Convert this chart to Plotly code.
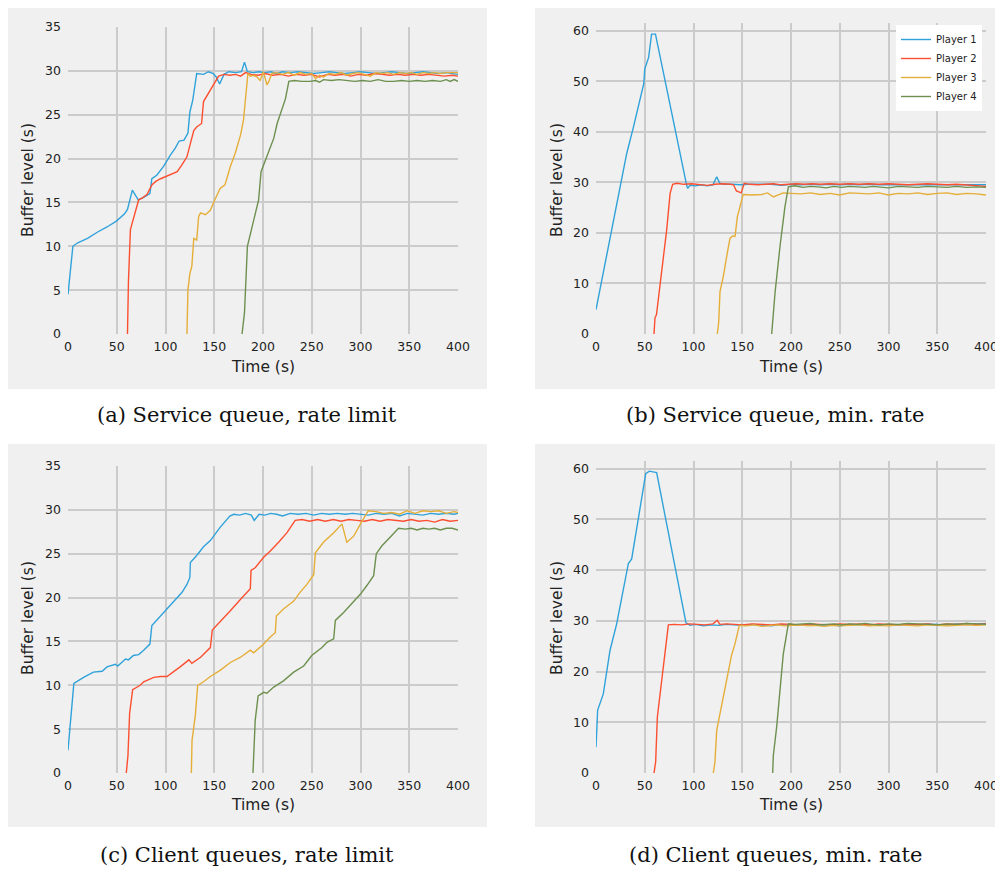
import plotly.graph_objects as go

W, H = 1003, 873
COLORS = ["#30a2da", "#fc4f30", "#e5ae38", "#6d904f"]
NAMES = ["Player 1", "Player 2", "Player 3", "Player 4"]
X_TICKS = [0, 50, 100, 150, 200, 250, 300, 350, 400]
CAPTIONS = ["(a) Service queue, rate limit", "(b) Service queue, min. rate",
            "(c) Client queues, rate limit", "(d) Client queues, min. rate"]
X_TITLE = "Time (s)"
Y_TITLE = "Buffer level (s)"

# ---------------- (a) Service queue, rate limit ----------------
a_p1_t = [0, 5, 10, 20, 30, 40, 50, 58, 61, 66, 72, 78, 84, 86, 91, 98, 105, 110, 114, 119, 123, 125, 128, 132, 139, 144, 149, 152, 155.5, 160, 165, 172, 178, 181, 184, 190, 196, 202, 208, 214, 220, 228, 236, 244, 252, 260, 268, 276, 284, 292, 300, 308, 316, 324, 332, 340, 348, 356, 364, 372, 380, 388, 396, 400]
a_p1_y = [4.5, 10.0, 10.4, 10.9, 11.6, 12.2, 12.9, 13.7, 14.2, 16.4, 15.3, 15.6, 16.0, 17.7, 18.1, 19.1, 20.4, 21.2, 22.0, 22.1, 22.9, 25.3, 26.7, 29.7, 29.6, 29.9, 29.7, 29.3, 28.5, 29.6, 29.9, 29.8, 29.9, 31.0, 29.9, 29.8, 29.9, 29.8, 29.9, 29.7, 29.9, 29.8, 29.9, 29.8, 29.7, 29.8, 29.9, 29.8, 29.7, 29.8, 29.9, 29.8, 29.7, 29.8, 29.9, 29.8, 29.7, 29.8, 29.9, 29.8, 29.7, 29.8, 29.7, 29.6]
a_p2_t = [61, 62, 64, 67, 72.5, 76, 81, 86, 90, 95, 101.5, 107, 112, 117, 122, 125.5, 129, 132, 137, 139, 144, 148, 151, 154.5, 160, 166, 172, 177, 182, 188, 195, 202, 210, 218, 226, 234, 242, 250, 258, 266, 274, 282, 290, 298, 306, 314, 322, 330, 338, 346, 354, 362, 370, 378, 386, 394, 400]
a_p2_y = [0, 6, 11.9, 13.0, 15.3, 15.5, 15.9, 17.0, 17.4, 17.7, 18.0, 18.2, 18.5, 19.3, 20.2, 21.7, 23.2, 23.6, 24.0, 26.5, 27.4, 28.2, 28.8, 29.4, 29.6, 29.5, 29.6, 29.4, 29.8, 29.6, 29.5, 29.7, 29.5, 29.6, 29.4, 29.6, 29.5, 29.6, 29.3, 29.6, 29.5, 29.6, 29.4, 29.6, 29.5, 29.7, 29.6, 29.5, 29.6, 29.5, 29.6, 29.5, 29.6, 29.5, 29.4, 29.5, 29.4]
a_p3_t = [122, 123, 125, 127, 129, 132, 134, 136, 141, 146, 149, 156, 161, 166.5, 171.5, 177, 180, 182, 184.5, 187, 190, 194, 197, 200.5, 204, 206, 209, 214, 220, 226, 232, 238, 244, 250, 254, 258, 262, 268, 274, 280, 286, 292, 298, 304, 310, 316, 322, 328, 334, 340, 346, 352, 358, 364, 370, 376, 382, 388, 394, 400]
a_p3_y = [0, 5.0, 6.9, 7.7, 10.9, 10.7, 13.4, 13.8, 13.6, 14.1, 14.9, 16.6, 17.0, 19.1, 20.6, 22.7, 24.4, 26.7, 29.7, 29.4, 29.5, 29.3, 28.9, 29.9, 28.4, 28.8, 29.7, 29.8, 29.6, 29.8, 29.5, 29.8, 29.6, 29.7, 29.1, 29.5, 29.3, 29.7, 29.6, 29.8, 29.5, 29.7, 29.8, 29.6, 29.4, 29.8, 29.7, 29.8, 29.6, 29.8, 29.7, 29.8, 29.6, 29.8, 29.7, 29.8, 29.7, 29.8, 29.8, 29.8]
a_p4_t = [178.5, 181, 184, 189, 192, 195.5, 198, 202.5, 206, 211, 214.5, 219.5, 223, 226.5, 232, 240, 248, 254, 258, 262, 270, 278, 286, 294, 302, 310, 318, 326, 334, 342, 350, 358, 366, 374, 382, 388, 392, 396, 400]
a_p4_y = [0, 2.4, 10.0, 12.2, 13.8, 15.3, 18.5, 19.8, 21.0, 22.3, 24.0, 25.5, 26.8, 28.8, 28.9, 28.8, 28.8, 28.9, 28.7, 29.0, 28.9, 29.0, 28.9, 28.8, 28.9, 28.8, 29.0, 28.8, 28.8, 28.9, 28.8, 28.9, 28.8, 28.9, 28.8, 29.0, 28.8, 29.0, 28.8]

# ---------------- (b) Service queue, min. rate ----------------
b_p1_t = [0, 4, 18, 31.5, 38, 45, 49, 50, 54, 57, 61, 93, 94, 96.5, 102, 108, 114, 120, 123.8, 127, 132, 140, 148, 156, 164, 172, 180, 190, 200, 210, 220, 230, 240, 250, 260, 270, 280, 290, 300, 310, 320, 330, 340, 350, 360, 370, 380, 390, 400]
b_p1_y = [4.8, 8.7, 21.9, 35.7, 40.6, 46.5, 49.5, 52.4, 54.7, 59.3, 59.3, 29.4, 28.8, 29.4, 29.3, 29.5, 29.3, 29.5, 31.1, 29.8, 29.6, 29.6, 29.5, 29.6, 29.6, 29.5, 29.6, 29.4, 29.6, 29.5, 29.6, 29.5, 29.6, 29.5, 29.6, 29.5, 29.6, 29.5, 29.5, 29.6, 29.5, 29.6, 29.5, 29.5, 29.6, 29.5, 29.6, 29.5, 29.5]
b_p2_t = [59.5, 60.5, 62, 65.5, 69, 72.5, 76, 78.6, 83, 90, 98, 106, 114, 122, 130, 138, 141, 144, 149, 152, 158, 166, 174, 182, 190, 198, 206, 214, 222, 230, 240, 250, 260, 270, 280, 290, 300, 310, 320, 330, 340, 350, 360, 370, 380, 390, 400]
b_p2_y = [0, 3.2, 3.8, 9.1, 14.7, 20.6, 27.8, 29.6, 29.8, 29.6, 29.7, 29.5, 29.4, 29.6, 29.7, 29.6, 29.5, 28.3, 27.9, 29.8, 29.6, 29.5, 29.6, 29.7, 29.5, 29.6, 29.7, 29.6, 29.7, 29.6, 29.7, 29.6, 29.7, 29.6, 29.7, 29.6, 29.7, 29.6, 29.5, 29.6, 29.7, 29.6, 29.5, 29.6, 29.5, 29.4, 29.2]
b_p3_t = [124.4, 125.8, 127.2, 130.6, 134, 137.4, 140, 142.6, 145, 147.7, 151, 160, 170, 176, 182, 187, 192, 200, 210, 220, 230, 240, 250, 260, 270, 280, 290, 300, 310, 320, 330, 340, 350, 360, 370, 380, 390, 400]
b_p3_y = [0, 2.2, 8.4, 11.4, 15.3, 18.9, 19.4, 19.3, 23.2, 25.2, 27.6, 27.5, 27.6, 27.9, 27.1, 27.5, 27.9, 27.8, 27.7, 27.9, 27.6, 27.8, 27.5, 27.9, 27.8, 27.7, 27.9, 27.5, 27.8, 27.7, 27.9, 27.6, 27.8, 27.9, 27.6, 27.8, 27.7, 27.5]
b_p4_t = [180.2, 183.6, 188.7, 193.8, 197.3, 204, 212, 220, 228, 236, 244, 252, 260, 268, 276, 284, 292, 300, 310, 320, 330, 340, 350, 360, 370, 380, 390, 400]
b_p4_y = [0, 8.1, 17.3, 25.2, 29.1, 29.3, 29.0, 29.2, 29.1, 28.9, 29.2, 29.0, 29.2, 29.1, 29.0, 29.2, 29.1, 28.9, 29.2, 29.1, 29.0, 29.2, 29.1, 29.0, 29.2, 29.0, 29.1, 29.0]

# ---------------- (c) Client queues, rate limit ----------------
c_p1_t = [0, 6, 16, 26, 35, 40, 48.5, 51, 59, 62, 67, 72.5, 77.6, 84, 86, 95, 101.5, 108, 117, 122, 125, 125.5, 132, 139, 146, 156, 166, 170, 176, 182, 188, 191, 196, 202, 208, 214, 220, 228, 236, 244, 252, 260, 268, 276, 284, 292, 300, 308, 316, 324, 332, 340, 348, 356, 364, 372, 380, 388, 396, 400]
c_p1_y = [2.6, 10.2, 10.9, 11.5, 11.6, 12.1, 12.4, 12.2, 13.0, 12.9, 13.4, 13.5, 14.0, 14.7, 16.8, 17.9, 18.7, 19.6, 20.6, 21.5, 22.3, 24.0, 24.8, 25.8, 26.5, 28.0, 29.3, 29.5, 29.4, 29.6, 29.4, 28.8, 29.5, 29.4, 29.6, 29.5, 29.3, 29.6, 29.5, 29.6, 29.4, 29.6, 29.5, 29.6, 29.5, 29.6, 29.5, 29.4, 29.6, 29.5, 29.6, 29.3, 29.6, 29.5, 29.4, 29.6, 29.5, 29.6, 29.5, 29.6]
c_p2_t = [59.8, 61.5, 63.2, 66.3, 74, 77.6, 88, 95, 101.5, 108, 115, 124, 127, 136, 141, 146, 148, 156, 166.5, 177, 187, 187.7, 192, 200.7, 207.5, 216, 224.6, 233, 240, 248, 256, 264, 272, 280, 288, 296, 304, 312, 320, 328, 336, 344, 352, 360, 368, 376, 384, 392, 400]
c_p2_y = [0, 2.0, 6.8, 9.5, 10.0, 10.4, 10.9, 11.0, 11.0, 11.5, 12.1, 12.9, 12.5, 13.2, 13.8, 14.3, 16.3, 17.2, 18.5, 19.8, 21.0, 23.1, 23.4, 24.6, 25.3, 26.3, 27.4, 28.8, 28.9, 28.7, 28.9, 28.7, 28.9, 28.7, 28.9, 28.8, 28.7, 28.9, 28.7, 28.9, 28.8, 28.7, 28.9, 28.7, 28.8, 28.6, 28.9, 28.7, 28.8]
c_p3_t = [126.5, 127.2, 130.6, 133, 139, 146, 156, 166.5, 177, 187, 190.4, 200.7, 207.5, 212.6, 213.7, 221, 231.5, 238, 245, 252, 253.7, 262, 272.5, 281, 286, 293, 300, 308, 316, 324, 332, 340, 348, 356, 364, 372, 380, 388, 396, 400]
c_p3_y = [0, 3.7, 6.6, 10.0, 10.4, 11.0, 11.7, 12.6, 13.2, 14.0, 13.7, 14.7, 15.5, 16.0, 17.9, 18.7, 19.6, 20.6, 21.5, 22.6, 25.1, 26.3, 27.4, 28.4, 26.3, 27.0, 28.4, 29.9, 29.8, 29.6, 29.7, 29.5, 29.9, 29.6, 29.9, 29.8, 29.9, 29.6, 29.8, 29.7]
c_p4_t = [189.7, 192, 195, 200.7, 204, 211, 221, 231.5, 241.7, 250, 260.5, 265.6, 272.5, 274.2, 282.7, 293, 300, 306.7, 313.5, 316.2, 322, 330.6, 339, 346, 352, 358, 364, 370, 376, 382, 388, 394, 400]
c_p4_y = [0, 6.0, 8.8, 9.2, 9.1, 9.8, 10.5, 11.5, 12.2, 13.4, 14.3, 14.9, 15.3, 17.4, 18.3, 19.6, 20.4, 21.4, 22.5, 25.0, 25.9, 26.9, 27.9, 27.8, 27.9, 27.7, 27.9, 27.8, 27.9, 27.7, 27.9, 27.9, 27.7]

# ---------------- (d) Client queues, min. rate ----------------
d_p1_t = [0, 1.7, 7.5, 14.4, 21.2, 33.2, 36.6, 45, 46.8, 51, 54.7, 62.2, 92.3, 96.4, 102, 110, 118, 126, 134, 142, 150, 160, 170, 180, 190, 200, 210, 220, 230, 240, 250, 260, 270, 280, 290, 300, 310, 320, 330, 340, 350, 360, 370, 380, 390, 400]
d_p1_y = [5.1, 12.4, 15.6, 24.2, 29.4, 41.3, 42.2, 52.1, 54.7, 59.0, 59.5, 59.2, 29.6, 29.1, 29.3, 29.0, 29.2, 29.1, 29.3, 29.2, 29.1, 29.3, 29.2, 29.0, 29.3, 29.1, 29.2, 29.3, 29.1, 29.2, 29.0, 29.3, 29.2, 29.1, 29.3, 29.2, 29.1, 29.3, 29.2, 29.4, 29.3, 29.2, 29.4, 29.3, 29.4, 29.5]
d_p2_t = [59.5, 61.2, 62.9, 65.6, 70.8, 74.2, 80, 88, 96, 104, 112, 120, 124.4, 127, 134, 142, 150, 160, 170, 180, 190, 200, 210, 220, 230, 240, 250, 260, 270, 280, 290, 300, 310, 320, 330, 340, 350, 360, 370, 380, 390, 400]
d_p2_y = [0, 2.2, 11.0, 15.6, 24.2, 29.2, 29.3, 29.2, 29.4, 29.3, 29.2, 29.4, 30.1, 29.3, 29.4, 29.3, 29.2, 29.4, 29.3, 29.2, 29.4, 29.3, 29.2, 29.4, 29.3, 29.2, 29.4, 29.3, 29.4, 29.2, 29.4, 29.3, 29.2, 29.4, 29.3, 29.4, 29.2, 29.4, 29.3, 29.5, 29.3, 29.4]
d_p3_t = [120.3, 122, 123.8, 127.2, 130.6, 134, 139, 142.6, 147, 154, 162, 170, 178, 186, 194, 202, 210, 218, 226, 234, 242, 250, 260, 270, 280, 290, 300, 310, 320, 330, 340, 350, 360, 370, 380, 390, 400]
d_p3_y = [0, 2.2, 8.4, 11.7, 15.0, 18.6, 23.2, 25.5, 29.1, 29.0, 29.2, 28.9, 29.1, 29.2, 29.0, 29.1, 29.2, 29.0, 29.1, 28.9, 29.1, 29.0, 29.1, 29.2, 29.0, 29.1, 29.0, 29.2, 29.1, 29.0, 29.2, 29.1, 29.0, 29.1, 29.2, 29.1, 29.2]
d_p4_t = [181.2, 181.9, 185.3, 188.7, 192.1, 197.3, 204, 212, 220, 228, 236, 244, 252, 260, 268, 276, 284, 292, 300, 310, 320, 330, 340, 350, 360, 370, 380, 390, 400]
d_p4_y = [0, 3.5, 9.1, 15.6, 23.5, 29.4, 29.3, 29.4, 29.5, 29.2, 29.3, 29.4, 29.2, 29.4, 29.3, 29.5, 29.3, 29.2, 29.4, 29.3, 29.5, 29.4, 29.3, 29.2, 29.4, 29.3, 29.5, 29.4, 29.3]

panels = [
    [(a_p1_t, a_p1_y), (a_p2_t, a_p2_y), (a_p3_t, a_p3_y), (a_p4_t, a_p4_y)],
    [(b_p1_t, b_p1_y), (b_p2_t, b_p2_y), (b_p3_t, b_p3_y), (b_p4_t, b_p4_y)],
    [(c_p1_t, c_p1_y), (c_p2_t, c_p2_y), (c_p3_t, c_p3_y), (c_p4_t, c_p4_y)],
    [(d_p1_t, d_p1_y), (d_p2_t, d_p2_y), (d_p3_t, d_p3_y), (d_p4_t, d_p4_y)],
]
y_ranges = [[0, 35], [0, 61.5], [0, 35], [0, 61.5]]
y_dticks = [5, 10, 5, 10]

# the page places the plot 8 px in from the top-left corner; compensate
OFF = 8

def px(x):
    return (x - OFF) / W

def py(y):
    return 1 - (y - OFF) / H

# plot areas in target pixels: (left, right, top, bottom)
areas = [(68, 458, 27, 334), (596, 986, 23, 334), (68, 458, 466, 773), (596, 986, 461, 773)]
bg_boxes = [(7, 487, 6, 389), (535, 1003, 6, 389), (7, 487, 444, 827), (535, 1003, 444, 827)]
caption_pos = [(247, 415), (775, 415), (247, 855), (775, 855)]
ytitle_pos = [(28, 180), (557, 180), (28, 618), (557, 618)]
xtitle_pos = [(263, 367), (791, 367), (263, 805), (791, 805)]

def clip01(v):
    return max(0.0, min(1.0, v))

fig = go.Figure()
for k, panel in enumerate(panels):
    suffix = "" if k == 0 else str(k + 1)
    for i, (t, y) in enumerate(panel):
        fig.add_trace(go.Scatter(
            x=t, y=y, mode="lines", name=NAMES[i],
            line=dict(color=COLORS[i], width=1.4),
            xaxis="x" + suffix, yaxis="y" + suffix,
            showlegend=(k == 1), legendrank=i + 1,
        ))

tick_font = dict(family="DejaVu Sans", size=12.5, color="#222222")
layout = dict(
    width=W, height=H, autosize=False,
    margin=dict(l=0, r=0, t=0, b=0, pad=0, autoexpand=False),
    paper_bgcolor="white", plot_bgcolor="#f0f0f0",
    showlegend=True,
    legend=dict(x=px(982), y=py(25), xanchor="right", yanchor="top",
                bgcolor="white", borderwidth=0, itemwidth=30,
                font=dict(family="DejaVu Sans", size=10, color="#222222"),
                tracegroupgap=0),
    shapes=[], annotations=[],
)
for k in range(4):
    l, r, t, b = areas[k]
    suffix = "" if k == 0 else str(k + 1)
    layout["xaxis" + suffix] = dict(
        domain=[px(l), px(r)], range=[0, 400], tickvals=X_TICKS,
        anchor="y" + suffix, showgrid=True, gridcolor="#cbcbcb", gridwidth=1.6,
        zeroline=False, showline=False, ticks="", ticklabelstandoff=3,
        tickfont=tick_font, automargin=False,
    )
    layout["yaxis" + suffix] = dict(
        domain=[py(b), py(t)], range=y_ranges[k], dtick=y_dticks[k],
        anchor="x" + suffix, showgrid=True, gridcolor="#cbcbcb", gridwidth=1.6,
        zeroline=False, showline=False, ticks="", ticklabelstandoff=6,
        tickfont=tick_font, automargin=False,
    )
    x0, x1, y0, y1 = bg_boxes[k]
    layout["shapes"].append(dict(
        type="rect", xref="paper", yref="paper",
        x0=clip01(px(x0)), x1=clip01(px(x1)), y0=clip01(py(y1)), y1=clip01(py(y0)),
        fillcolor="#f0f0f0", line=dict(width=0), layer="below",
    ))
    cx, cy = caption_pos[k]
    layout["annotations"].append(dict(
        text=CAPTIONS[k], x=px(cx), y=py(cy), xref="paper", yref="paper",
        xanchor="center", yanchor="middle", showarrow=False,
        font=dict(family="DejaVu Serif", size=21, color="#111111"),
    ))
    tx, ty = ytitle_pos[k]
    layout["annotations"].append(dict(
        text=Y_TITLE, x=px(tx), y=py(ty), xref="paper", yref="paper",
        xanchor="center", yanchor="middle", showarrow=False, textangle=-90,
        font=dict(family="DejaVu Sans", size=15.5, color="#222222"),
    ))
    tx, ty = xtitle_pos[k]
    layout["annotations"].append(dict(
        text=X_TITLE, x=px(tx), y=py(ty), xref="paper", yref="paper",
        xanchor="center", yanchor="middle", showarrow=False,
        font=dict(family="DejaVu Sans", size=15.5, color="#222222"),
    ))

fig.update_layout(**layout)
fig.write_html("out.html", config={"displayModeBar": False})
